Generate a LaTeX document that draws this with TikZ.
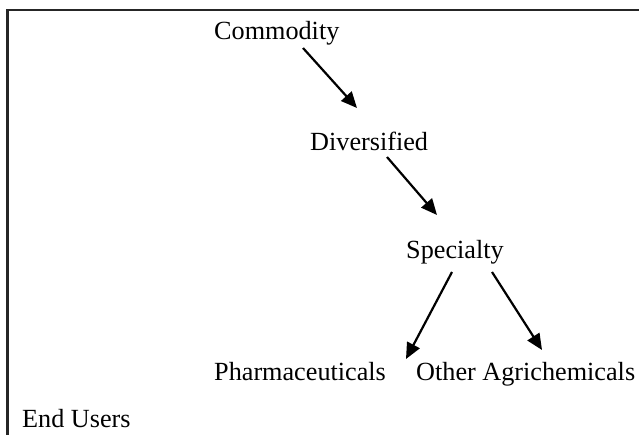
\documentclass[tikz,border=0pt]{standalone}
\usepackage{fontspec}
\setmainfont{Liberation Serif}
\usetikzlibrary{arrows.meta}

\begin{document}
\begin{tikzpicture}[x=1pt,y=-1pt,
  every node/.style={inner sep=0pt,anchor=base west,font=\fontsize{26.2}{31}\selectfont},
  link/.style={-{Triangle[length=16pt,width=14pt]},line width=2.2pt}]
\useasboundingbox (0,0) rectangle (639,435);
\draw[line width=2.5pt,black!85] (7.5,435) -- (7.5,10) -- (639,10);

\node (A) at (214,40)    {Commodity};
\node (B) at (310,150.5) {Diversified};
\node (C) at (406,259)   {Specialty};
\node (D) at (214,380)   {Pharmaceuticals};
\node (E) at (416,380)   {Other Agrichemicals};
\node (F) at (22,427)    {End Users};

\draw[link] ([shift={(89,8)}]A.base west) -- ([shift={(47,-42.5)}]B.base west);
\draw[link] ([shift={(77,6.5)}]B.base west) -- ([shift={(31,-44)}]C.base west);
\draw[link] ([shift={(46,13)}]C.base west) -- ([shift={(192,-21)}]D.base west);
\draw[link] ([shift={(86,13)}]C.base west) -- ([shift={(126,-30)}]E.base west);
\end{tikzpicture}
\end{document}
